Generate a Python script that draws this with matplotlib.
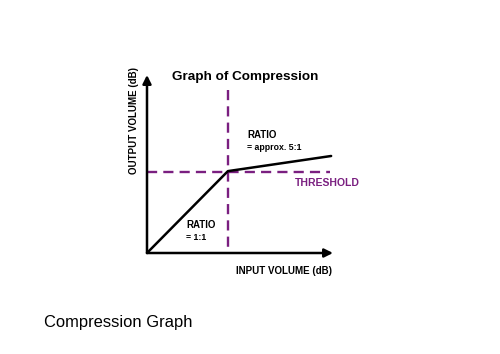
import matplotlib
matplotlib.use("Agg")
import matplotlib.pyplot as plt

# Data (chart units: 0..100 on both axes)
curve_in = [0, 43.5, 99]
curve_out = [0, 46, 54.5]
threshold_in = 43.5
threshold_out = 45.5
vline_top = 91.5
hline_end = 98.5

purple = "#7a1f80"

W, H = 500, 354
fig = plt.figure(figsize=(W / 100, H / 100), dpi=100)
fig.patch.set_facecolor("white")

# inner axes: x 147..333 px, y 253..75 px (from top)
left, right = 147 / W, 333 / W
bottom, top = 1 - 253 / H, 1 - 75 / H
ax = fig.add_axes([left, bottom, right - left, top - bottom])
ax.set_xlim(0, 100)
ax.set_ylim(0, 100)
ax.axis("off")

# axes with arrows
ax.annotate("", xy=(100, 0), xytext=(0, 0), xycoords="data",
            arrowprops=dict(arrowstyle="-|>,head_length=0.5,head_width=0.25", lw=1.8, color="black",
                            shrinkA=0, shrinkB=0), annotation_clip=False)
ax.annotate("", xy=(0, 100), xytext=(0, 0), xycoords="data",
            arrowprops=dict(arrowstyle="-|>,head_length=0.5,head_width=0.25", lw=1.8, color="black",
                            shrinkA=0, shrinkB=0), annotation_clip=False)

# threshold dashed lines (vertical drawn from top down so a dash starts at the top)
ax.plot([threshold_in, threshold_in], [vline_top, 0], color=purple, lw=1.7,
        dashes=(4.3, 2.6), clip_on=False)
ax.plot([0, hline_end], [threshold_out, threshold_out], color=purple, lw=1.7,
        dashes=(4.3, 2.6), clip_on=False)

# compression curve
ax.plot(curve_in, curve_out, color="black", lw=1.8, clip_on=False, solid_capstyle="round")

fs = 7
fig.text(245 / W, 1 - 77 / H, "Graph of Compression", ha="center", va="center",
         fontsize=9.7, fontweight="bold", family="Liberation Sans")
fig.text(134 / W, 1 - 121 / H, "OUTPUT VOLUME (dB)", ha="center", va="center",
         rotation=90, fontsize=fs, fontweight="bold", family="Liberation Sans")
fig.text(284 / W, 1 - 271 / H, "INPUT VOLUME (dB)", ha="center", va="center",
         fontsize=fs, fontweight="bold", family="Liberation Sans")
fig.text(295 / W, 1 - 183 / H, "THRESHOLD", ha="left", va="center",
         fontsize=7.5, fontweight="bold", color=purple, family="Liberation Sans")
fig.text(247 / W, 1 - 135 / H, "RATIO", ha="left", va="center",
         fontsize=fs, fontweight="bold", family="Liberation Sans")
fig.text(247 / W, 1 - 148 / H, "= approx. 5:1", ha="left", va="center",
         fontsize=6.3, fontweight="bold", family="Liberation Sans")
fig.text(186 / W, 1 - 225 / H, "RATIO", ha="left", va="center",
         fontsize=fs, fontweight="bold", family="Liberation Sans")
fig.text(186 / W, 1 - 238 / H, "= 1:1", ha="left", va="center",
         fontsize=6.3, fontweight="bold", family="Liberation Sans")

fig.text(44 / W, 1 - 322 / H, "Compression Graph", ha="left", va="center",
         fontsize=11.9, family="Liberation Sans")

fig.savefig("out.png", dpi=100, facecolor="white")
